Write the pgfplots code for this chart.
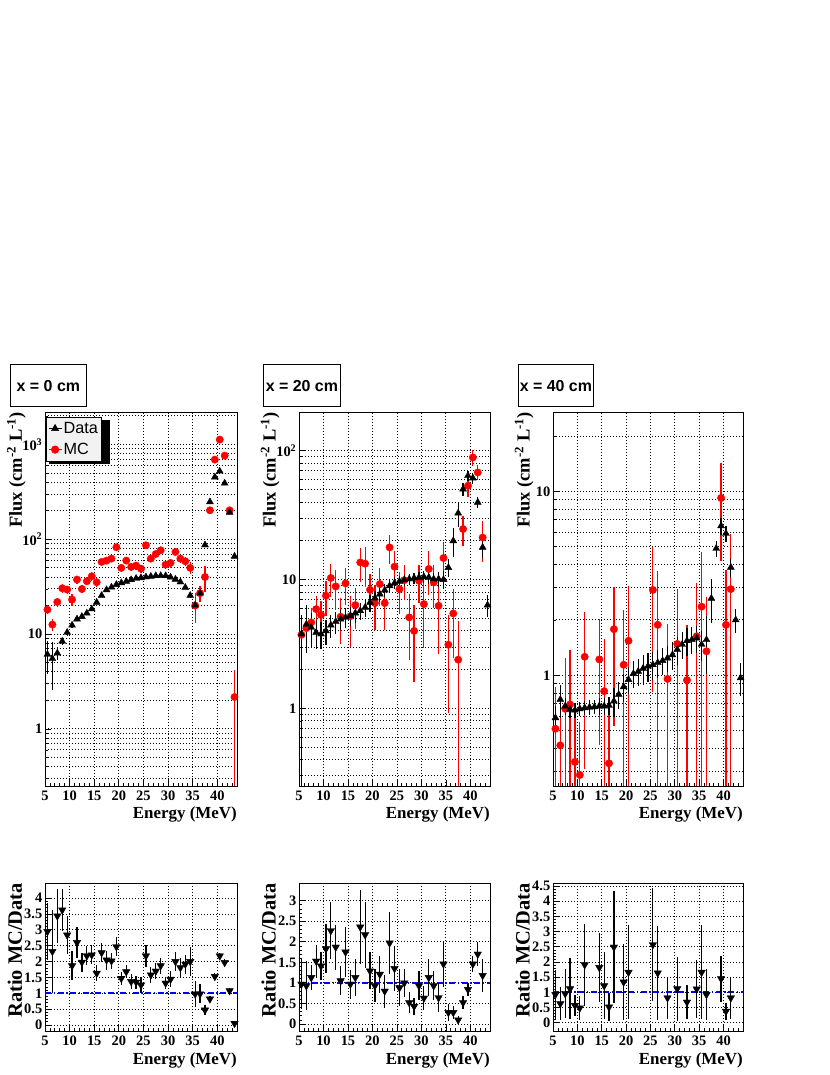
\documentclass[border=0pt]{standalone}
\usepackage{pgfplots}
\pgfplotsset{compat=1.18}
\usepackage{pgfplotstable}
\usepackage{fontspec}
\setmainfont{Liberation Serif}
\newfontfamily\hel{Liberation Sans}

% ---------- x = 0 cm ----------
\pgfplotstableread{
x y ep em
5.5 6.1 2.3 2.3
6.5 5.5 2.8 2.9
7.5 6.3 1.0 1.0
8.5 8.4 0.8 0.8
9.5 10.4 0.8 0.8
10.5 12.4 0.8 0.8
11.5 14.4 0.8 0.8
12.5 15.3 0.8 0.8
13.5 16.6 0.8 0.8
14.5 18.4 0.9 0.9
15.5 21.6 1 1
16.5 25.5 1 1
17.5 29.3 1 1
18.5 31.2 1 1
19.5 33.3 1 1
20.5 34.7 1 1
21.5 36.0 1 1
22.5 37.4 1 1
23.5 38.6 1 1
24.5 39.2 1 1
25.5 40.0 1 1
26.5 40.6 1 1
27.5 41.2 1 1
28.5 41.3 1 1
29.5 41.2 1 1
30.5 39.8 1 1
31.5 37.8 1 1
32.5 35.4 1 1
33.5 31.0 1 1
34.5 25.5 1.2 1.2
35.5 20.2 1.5 1.5
36.5 27 1.5 1.5
37.5 87 3 3
38.5 248 6 6
39.5 453 9 9
40.5 522 10 10
41.5 390 8 8
42.5 192 6 6
43.5 66 3 3
}\dataA
\pgfplotstableread{
x y ep em
5.5 18.1 2.0 2.0
6.5 12.6 1.8 1.8
7.5 21.8 2.5 2.5
8.5 30.4 3 3
9.5 29.5 3 3
10.5 23.1 3.2 3.2
11.5 37.6 3.5 3.5
12.5 29.9 3 3
13.5 36.1 3.5 3.5
14.5 40.7 4 4
15.5 35.2 3.5 3.5
16.5 57.7 4.5 4.5
17.5 59.6 4.5 4.5
18.5 62.5 5 5
19.5 82.4 6 6
20.5 49.9 5 5
21.5 59.6 5 5
22.5 51.1 5 5
23.5 52.8 5 5
24.5 49 5 5
25.5 86.4 6 6
26.5 62.5 5.5 5.5
27.5 70 6 6
28.5 76.5 6 6
29.5 54 5.5 5.5
30.5 56.3 6 6
31.5 73.5 7 7
32.5 62.5 6.5 6.5
33.5 58.6 6.5 6.5
34.5 49.9 7 7
35.5 20 7 7
36.5 27 5 5
37.5 40 12 12
38.5 202 12 12
39.5 692 30 30
40.5 1125 40 40
41.5 762 35 35
42.5 202 14 14
43.5 2.17 2.05 2.1
}\mcA
\pgfplotstableread{
x y e
5.5 2.95 0.9
6.5 2.32 1.3
7.5 3.44 0.85
8.5 3.63 0.65
9.5 2.84 0.6
10.5 1.87 0.45
11.5 2.6 0.5
12.5 1.98 0.3
13.5 2.18 0.3
14.5 2.21 0.3
15.5 1.63 0.25
16.5 2.28 0.3
17.5 2.05 0.3
18.5 2.02 0.25
19.5 2.47 0.3
20.5 1.47 0.2
21.5 1.68 0.2
22.5 1.37 0.25
23.5 1.35 0.2
24.5 1.26 0.25
25.5 2.18 0.35
26.5 1.58 0.25
27.5 1.7 0.25
28.5 1.87 0.25
29.5 1.32 0.2
30.5 1.44 0.25
31.5 2.0 0.3
32.5 1.81 0.3
33.5 1.92 0.3
34.5 2.0 0.45
35.5 0.98 0.4
36.5 0.98 0.3
37.5 0.47 0.15
38.5 0.82 0.1
39.5 1.53 0.1
40.5 2.18 0.1
41.5 1.97 0.1
42.5 1.08 0.1
43.5 0.05 0.05
}\ratA

% ---------- x = 20 cm ----------
\pgfplotstableread{
x y ep em
5.5 3.78 1.5 3.55
6.5 4.5 1.8 1.8
7.5 4.25 1.3 1.3
8.5 3.89 1.0 1.0
9.5 3.78 0.9 0.9
10.5 4.0 0.9 0.9
11.5 4.43 0.9 0.9
12.5 4.71 0.9 0.9
13.5 4.93 0.9 0.9
14.5 5.08 0.9 0.9
15.5 5.24 0.9 0.9
16.5 5.5 0.9 0.9
17.5 5.73 0.9 0.9
18.5 6.08 1.0 1.0
19.5 6.65 1.0 1.0
20.5 7.18 1.0 1.0
21.5 7.71 1.0 1.0
22.5 8.28 1.0 1.0
23.5 8.95 1.0 1.0
24.5 9.39 1.0 1.0
25.5 9.68 1.0 1.0
26.5 9.93 1.0 1.0
27.5 10.1 1.0 1.0
28.5 10.3 1.0 1.0
29.5 10.4 1.0 1.0
30.5 10.5 1.1 1.1
31.5 10.4 1.1 1.1
32.5 10.1 1.2 1.2
33.5 10.1 1.3 1.3
34.5 10.0 1.6 1.6
35.5 12.4 2.0 2.0
36.5 20 5 5
37.5 32.8 7 7
38.5 50.4 6 6
39.5 64 6 6
40.5 61.4 6 6
41.5 39.8 4 4
42.5 17.8 3 3
43.5 6.34 1.2 1.2
}\dataB
\pgfplotstableread{
x y ep em
5.5 3.73 1.2 1.2
6.5 4.2 1.4 1.4
7.5 4.65 1.4 1.4
8.5 5.9 1.6 1.6
9.5 5.33 1.5 1.5
10.5 7.5 2.3 2.3
11.5 10.3 3 3
12.5 8.85 3 3
13.5 5.15 2 2
14.5 9.34 3 3
15.5 5.2 2.2 2.2
16.5 6.34 2.2 2.2
17.5 13.6 4 4
18.5 13.3 4.5 4.5
19.5 8.34 2.7 2.7
20.5 6.57 2.5 2.5
21.5 9.23 3 3
22.5 6.57 2.5 2.5
23.5 17.8 4.5 4.5
24.5 12.6 4 4
25.5 8.44 3 3
26.5 9.9 3 3
27.5 5.09 2.7 2.7
28.5 4.0 2.4 2.4
29.5 9.8 3.2 3.2
30.5 6.45 3.5 3.5
31.5 12.1 4.5 4.5
32.5 9.5 3.5 3.5
33.5 6.26 3.6 3.6
34.5 14.7 5 5
35.5 3.12 2.2 2.2
36.5 5.46 3 3
37.5 2.39 2.35 2.37
38.5 24.7 6.5 6.5
39.5 53.5 10 10
40.5 88.8 12 12
41.5 67.9 9 9
42.5 21.2 7.5 7.5
}\mcB
\pgfplotstableread{
x y e
5.5 0.97 0.6
6.5 0.93 0.6
7.5 1.13 0.3
8.5 1.53 0.4
9.5 1.41 0.35
10.5 1.83 0.6
11.5 2.27 0.7
12.5 1.87 0.55
13.5 1.05 0.35
14.5 1.75 0.6
15.5 0.97 0.35
16.5 1.13 0.45
17.5 2.36 0.9
18.5 2.17 0.8
19.5 1.29 0.45
20.5 0.93 0.4
21.5 1.21 0.45
22.5 0.8 0.4
23.5 1.97 0.75
24.5 1.35 0.55
25.5 0.88 0.45
26.5 1.0 0.35
27.5 0.52 0.25
28.5 0.43 0.2
29.5 0.93 0.35
30.5 0.63 0.3
31.5 1.13 0.45
32.5 0.93 0.35
33.5 0.64 0.35
34.5 1.46 0.55
35.5 0.28 0.2
36.5 0.28 0.15
37.5 0.1 0.1
38.5 0.52 0.15
39.5 0.84 0.15
40.5 1.46 0.2
41.5 1.7 0.3
42.5 1.18 0.4
}\ratB

% ---------- x = 40 cm ----------
\pgfplotstableread{
x y ep em
5.5 0.587 0.09 0.09
6.5 0.738 0.15 0.15
7.5 0.68 0.07 0.07
8.5 0.652 0.07 0.07
9.5 0.646 0.06 0.06
10.5 0.657 0.06 0.06
11.5 0.665 0.06 0.06
12.5 0.67 0.06 0.06
13.5 0.673 0.06 0.06
14.5 0.68 0.07 0.07
15.5 0.68 0.07 0.07
16.5 0.685 0.08 0.08
17.5 0.723 0.13 0.13
18.5 0.786 0.13 0.13
19.5 0.865 0.15 0.15
20.5 0.947 0.16 0.16
21.5 1.02 0.17 0.17
22.5 1.05 0.18 0.18
23.5 1.09 0.2 0.2
24.5 1.12 0.2 0.2
25.5 1.14 0.2 0.2
26.5 1.17 0.2 0.2
27.5 1.2 0.2 0.2
28.5 1.24 0.2 0.2
29.5 1.29 0.22 0.22
30.5 1.38 0.24 0.24
31.5 1.47 0.25 0.25
32.5 1.54 0.26 0.26
33.5 1.56 0.26 0.26
34.5 1.59 0.27 0.27
35.5 1.47 0.27 0.27
36.5 1.56 0.55 0.55
37.5 2.62 0.7 0.7
38.5 4.89 0.5 0.5
39.5 6.49 0.7 0.7
40.5 5.9 0.6 0.6
41.5 3.86 0.45 0.45
42.5 2.0 0.3 0.3
43.5 0.967 0.2 0.2
}\dataC
\pgfplotstableread{
x y ep em
5.5 0.512 0.35 0.5
6.5 0.416 0.4 0.41
7.5 0.657 0.58 0.65
8.5 0.694 0.68 0.69
9.5 0.338 0.33 0.335
10.5 0.287 0.27 0.28
11.5 1.26 0.95 0.95
14.5 1.22 0.8 0.8
15.5 0.819 0.75 0.75
16.5 0.332 0.32 0.33
17.5 1.78 1.25 1.25
19.5 1.14 1.12 1.12
20.5 1.54 1.5 1.5
25.5 2.91 2.1 2.1
26.5 1.88 1.8 1.8
28.5 0.955 0.95 0.95
30.5 1.48 1.45 1.45
32.5 0.94 0.93 0.93
34.5 1.63 1.55 1.55
35.5 2.36 2.3 2.3
36.5 1.35 1.3 1.3
39.5 9.2 5 5
40.5 1.88 1.85 1.85
41.5 2.94 2.9 2.9
}\mcC
\pgfplotstableread{
x y e
5.5 0.93 0.8
6.5 0.63 0.55
7.5 0.96 0.8
8.5 1.12 1.0
9.5 0.57 0.35
10.5 0.49 0.4
11.5 1.91 1.35
14.5 1.82 1.15
15.5 1.22 1.1
16.5 0.52 0.45
17.5 2.49 1.85
19.5 1.34 1.25
20.5 1.66 1.55
25.5 2.57 1.85
26.5 1.64 1.55
28.5 0.82 0.7
30.5 1.12 1.05
32.5 0.68 0.55
34.5 1.11 0.95
35.5 1.66 1.55
36.5 0.93 0.85
39.5 1.45 0.75
40.5 0.38 0.28
41.5 0.82 0.7
}\ratC

\pgfplotsset{
  rootbase/.style={
    scale only axis, anchor=south west,
    xmin=5, xmax=44,
    axis line style={line width=0.9bp},
    every tick/.style={line width=0.7bp, black},
    tick pos=left, tick align=inside,
    major tick length=6bp, minor tick length=3bp,
    xtick={5,10,15,20,25,30,35,40},
    xticklabels={5,10,15,20,25,30,35,40},
    minor xtick={6,7,8,9,11,12,13,14,16,17,18,19,21,22,23,24,26,27,28,29,31,32,33,34,36,37,38,39,41,42,43},
    xmajorgrids, ymajorgrids,
    major grid style={line width=0.9bp, black, dash pattern=on 1bp off 2bp},
    minor grid style={line width=0.9bp, black, dash pattern=on 1bp off 2bp},
    tick label style={font=\bfseries\fontsize{14.5}{15}\selectfont},
    xticklabel style={inner sep=0pt, anchor=north, yshift=-4.5bp},
    yticklabel style={inner sep=0pt, anchor=east, xshift=-2.5bp},
    xlabel={\bfseries Energy (MeV)},
    xlabel style={font=\fontsize{17}{18}\selectfont, at={(axis description cs:1,0)}, anchor=base east, yshift=-33bp, inner sep=0pt},
  },
  toppanel/.style={
    rootbase, height=374bp, yminorgrids,
    ylabel={\bfseries Flux (cm\textsuperscript{-2} L\textsuperscript{-1})},
    ylabel style={font=\fontsize{18.5}{19}\selectfont, anchor=base east, inner sep=0pt},
  },
  ratiopanel/.style={
    rootbase, height=148bp, minor y tick num=4,
    ylabel={\bfseries Ratio MC/Data},
    ylabel style={font=\fontsize{20.5}{21}\selectfont, anchor=base east, inner sep=0pt},
  },
  mcplot/.style={only marks, mark=*, mark size=3.7bp, red, mark options={fill=red, draw=red, solid},
    error bars/.cd, y dir=both, y explicit, error mark=none, error bar style={line width=1.2bp, red}},
  dataplot/.style={only marks, mark=triangle*, mark size=4bp, black, mark options={fill=black, draw=black, solid},
    error bars/.cd, y dir=both, y explicit, error mark=none, error bar style={line width=1.2bp, black}},
  ratplot/.style={only marks, mark=triangle*, mark size=4.3bp, black, mark options={fill=black, draw=black, solid, rotate=180},
    error bars/.cd, y dir=both, y explicit, error mark=none, error bar style={line width=1.2bp, black}},
  oneline/.style={blue, line width=2bp, dash pattern=on 6bp off 2.5bp on 1.5bp off 2.5bp},
}

\begin{document}
\begin{tikzpicture}
\useasboundingbox (0,0) rectangle (830bp,1075bp);

% ===== top panel 1 =====
\begin{axis}[ymode=log, toppanel, at={(45bp,289bp)}, width=192bp,
  ymin=0.25, ymax=2200,
  ytick={1,10,100,1000}, yticklabels={1,10,10\textsuperscript{2},10\textsuperscript{3}},
  minor ytick={0.3,0.4,0.5,0.6,0.7,0.8,0.9,2,3,4,5,6,7,8,9,20,30,40,50,60,70,80,90,200,300,400,500,600,700,800,900,2000},
  ylabel style={at={(axis description cs:-0.121,1)}},
  reverse legend, legend cell align=left,
  legend image code/.code={\draw[line width=1.1bp,#1] (0bp,0bp) -- (13bp,0bp); \draw[#1] plot coordinates {(6.5bp,0bp)};},
  legend style={at={(axis description cs:0.0036,0.9866)}, anchor=north west,
    draw=black, line width=0.7bp, fill=black!5, font=\hel\fontsize{16.3}{17}\selectfont,
    inner xsep=2bp, inner ysep=2bp, row sep=2.5bp,
    nodes={inner sep=1.5bp, minimum height=18.5bp},
    /tikz/every even column/.append style={column sep=7bp},
    /tikz/every odd column/.append style={text width=37bp}},
]
\fill[black] (axis description cs:0.0219,0.9773) rectangle (axis description cs:0.341,0.8596);
\addplot[mcplot] table[x=x, y=y, y error plus=ep, y error minus=em] {\mcA};
\addlegendentry{MC}
\addplot[dataplot] table[x=x, y=y, y error plus=ep, y error minus=em] {\dataA};
\addlegendentry{Data}
\end{axis}
\node[draw, line width=0.8bp, minimum width=76bp, minimum height=42bp, inner sep=0pt, anchor=south west, font=\hel\bfseries\fontsize{16}{17}\selectfont] at (10bp,668bp) {x = 0 cm};

% ===== top panel 2 =====
\begin{axis}[ymode=log, toppanel, at={(299bp,289bp)}, width=191bp,
  ymin=0.25, ymax=200,
  ytick={1,10,100}, yticklabels={1,10,10\textsuperscript{2}},
  minor ytick={0.3,0.4,0.5,0.6,0.7,0.8,0.9,2,3,4,5,6,7,8,9,20,30,40,50,60,70,80,90},
  ylabel style={at={(axis description cs:-0.122,1)}},
]
\addplot[mcplot] table[x=x, y=y, y error plus=ep, y error minus=em] {\mcB};
\addplot[dataplot] table[x=x, y=y, y error plus=ep, y error minus=em] {\dataB};
\end{axis}
\node[draw, line width=0.8bp, minimum width=77bp, minimum height=42bp, inner sep=0pt, anchor=south west, font=\hel\bfseries\fontsize{16}{17}\selectfont] at (263bp,668bp) {x = 20 cm};

% ===== top panel 3 =====
\begin{axis}[ymode=log, toppanel, at={(553bp,289bp)}, width=190bp,
  ymin=0.25, ymax=27,
  ytick={1,10}, yticklabels={1,10},
  minor ytick={0.3,0.4,0.5,0.6,0.7,0.8,0.9,2,3,4,5,6,7,8,9,20},
  ylabel style={at={(axis description cs:-0.1226,1)}},
]
\addplot[mcplot] table[x=x, y=y, y error plus=ep, y error minus=em] {\mcC};
\addplot[dataplot] table[x=x, y=y, y error plus=ep, y error minus=em] {\dataC};
\end{axis}
\node[draw, line width=0.8bp, minimum width=75bp, minimum height=42bp, inner sep=0pt, anchor=south west, font=\hel\bfseries\fontsize{16}{17}\selectfont] at (518bp,668bp) {x = 40 cm};

% ===== ratio panel 1 =====
\begin{axis}[ratiopanel, at={(45bp,44bp)}, width=192bp,
  ymin=-0.19, ymax=4.48,
  ytick={0,0.5,1,1.5,2,2.5,3,3.5,4}, yticklabels={0,0.5,1,1.5,2,2.5,3,3.5,4},
  ylabel style={at={(axis description cs:-0.121,1)}},
]
\addplot[oneline] coordinates {(5,1) (44,1)};
\addplot[ratplot] table[x=x, y=y, y error=e] {\ratA};
\end{axis}

% ===== ratio panel 2 =====
\begin{axis}[ratiopanel, at={(299bp,44bp)}, width=191bp,
  ymin=-0.17, ymax=3.43,
  ytick={0,0.5,1,1.5,2,2.5,3}, yticklabels={0,0.5,1,1.5,2,2.5,3},
  ylabel style={at={(axis description cs:-0.122,1)}},
]
\addplot[oneline] coordinates {(5,1) (44,1)};
\addplot[ratplot] table[x=x, y=y, y error=e] {\ratB};
\end{axis}

% ===== ratio panel 3 =====
\begin{axis}[ratiopanel, at={(553bp,44bp)}, width=190bp,
  ymin=-0.27, ymax=4.6,
  ytick={0,0.5,1,1.5,2,2.5,3,3.5,4,4.5}, yticklabels={0,0.5,1,1.5,2,2.5,3,3.5,4,4.5},
  ylabel style={at={(axis description cs:-0.1226,1)}},
]
\addplot[oneline] coordinates {(5,1) (44,1)};
\addplot[ratplot] table[x=x, y=y, y error=e] {\ratC};
\end{axis}
\end{tikzpicture}
\end{document}
